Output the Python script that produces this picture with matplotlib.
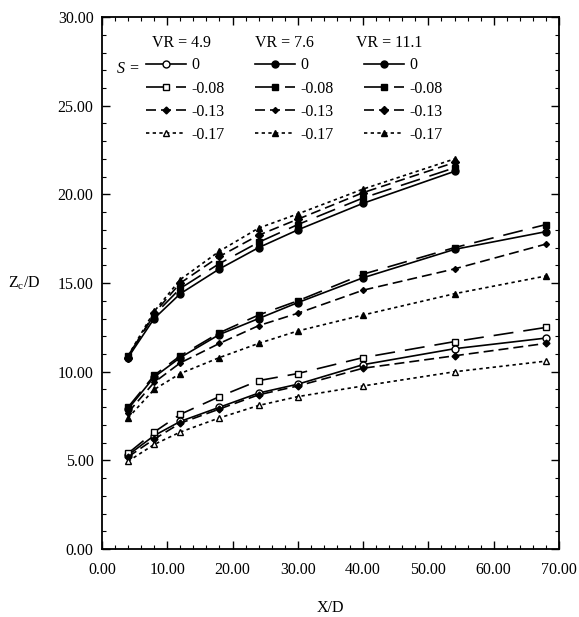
import matplotlib
matplotlib.use('Agg')
import matplotlib.pyplot as plt
from matplotlib.ticker import MultipleLocator, FormatStrFormatter

plt.rcParams['font.family'] = ['Liberation Serif', 'DejaVu Serif']
plt.rcParams['mathtext.fontset'] = 'custom'
plt.rcParams['mathtext.rm'] = 'Liberation Serif'
plt.rcParams['mathtext.it'] = 'Liberation Serif:italic'

# ---------------- data ----------------
x_long = [4, 8, 12, 18, 24, 30, 40, 54, 68]
x_short = [4, 8, 12, 18, 24, 30, 40, 54]

swirl_labels = ['0', '-0.08', '-0.13', '-0.17']
vr_labels = ['VR = 4.9', 'VR = 7.6', 'VR = 11.1']

# VR = 4.9
vr49_s000 = [5.3, 6.4, 7.2, 8.0, 8.8, 9.3, 10.4, 11.3, 11.9]
vr49_s008 = [5.4, 6.6, 7.6, 8.6, 9.5, 9.9, 10.8, 11.7, 12.5]
vr49_s013 = [5.2, 6.2, 7.1, 7.9, 8.7, 9.2, 10.2, 10.9, 11.6]
vr49_s017 = [4.95, 5.9, 6.6, 7.4, 8.1, 8.6, 9.2, 10.0, 10.6]

# VR = 7.6
vr76_s000 = [7.9, 9.7, 10.8, 12.1, 13.0, 13.9, 15.3, 16.9, 17.9]
vr76_s008 = [8.0, 9.8, 10.9, 12.2, 13.2, 14.0, 15.5, 17.0, 18.3]
vr76_s013 = [7.7, 9.4, 10.5, 11.6, 12.6, 13.3, 14.6, 15.8, 17.2]
vr76_s017 = [7.4, 9.0, 9.9, 10.8, 11.6, 12.3, 13.2, 14.4, 15.4]

# VR = 11.1
vr111_s000 = [10.8, 13.0, 14.4, 15.8, 17.0, 18.0, 19.5, 21.3]
vr111_s008 = [10.9, 13.2, 14.7, 16.1, 17.3, 18.3, 19.8, 21.5]
vr111_s013 = [10.8, 13.3, 15.0, 16.5, 17.7, 18.6, 20.1, 21.8]
vr111_s017 = [10.9, 13.4, 15.2, 16.8, 18.1, 18.9, 20.3, 22.0]

groups = [
    (x_long, [vr49_s000, vr49_s008, vr49_s013, vr49_s017]),
    (x_long, [vr76_s000, vr76_s008, vr76_s013, vr76_s017]),
    (x_short, [vr111_s000, vr111_s008, vr111_s013, vr111_s017]),
]

# ---------------- styles ----------------
lw = 1.2
linestyles = ['-', (0, (12, 6)), (0, (6, 3)), (0, (2, 2))]
markers = [
    [('o', 'white', 5), ('s', 'white', 5), ('D', 'black', 3.5), ('^', 'white', 5)],
    [('o', 'black', 5), ('s', 'black', 5), ('D', 'black', 3), ('^', 'black', 5)],
    [('o', 'black', 5), ('s', 'black', 5), ('D', 'black', 4), ('^', 'black', 5)],
]

FS = 11.5

fig = plt.figure(figsize=(5.79, 6.17), dpi=100)
ax = fig.add_axes([0.176, 0.110, 0.7895, 0.8624])

handles = []
for gi, (xs, series) in enumerate(groups):
    for si, ys in enumerate(series):
        m, fc, ms = markers[gi][si]
        h, = ax.plot(xs, ys, color='black', lw=lw, linestyle=linestyles[si],
                     marker=m, markerfacecolor=fc, markeredgecolor='black',
                     markersize=ms, markeredgewidth=1.0)
        handles.append(h)

ax.set_xlim(0, 70)
ax.set_ylim(0, 30)
ax.xaxis.set_major_locator(MultipleLocator(10))
ax.xaxis.set_minor_locator(MultipleLocator(2))
ax.yaxis.set_major_locator(MultipleLocator(5))
ax.yaxis.set_minor_locator(MultipleLocator(1))
ax.xaxis.set_major_formatter(FormatStrFormatter('%.2f'))
ax.yaxis.set_major_formatter(FormatStrFormatter('%.2f'))
ax.tick_params(which='both', direction='in', top=True, right=True,
               labelsize=FS, colors='black')
ax.tick_params(which='major', length=6, width=1.0)
ax.tick_params(axis='x', which='major', pad=9)
ax.tick_params(axis='y', which='major', pad=6)
ax.tick_params(which='minor', length=3, width=0.8)
for sp in ax.spines.values():
    sp.set_linewidth(1.3)

ax.set_xlabel('X/D', fontsize=FS, labelpad=16)
ax.set_ylabel(r'Z$_\mathrm{c}$/D', fontsize=FS, rotation=0, labelpad=24,
              va='center')

leg = ax.legend(handles, swirl_labels * 3, ncol=3, frameon=False,
                loc='upper left', bbox_to_anchor=(0.097, 0.924),
                fontsize=FS, handlelength=2.5, handletextpad=0.3,
                columnspacing=1.95, labelspacing=0.45, borderpad=0,
                borderaxespad=0, numpoints=1)

for xpos, t in zip([0.175, 0.40, 0.628], vr_labels):
    ax.text(xpos, 0.951, t, transform=ax.transAxes, ha='center', va='center',
            fontsize=FS)
ax.text(0.057, 0.902, 'S =', transform=ax.transAxes, ha='center', va='center',
        fontsize=FS, style='italic')

fig.savefig('out.png', dpi=100)
